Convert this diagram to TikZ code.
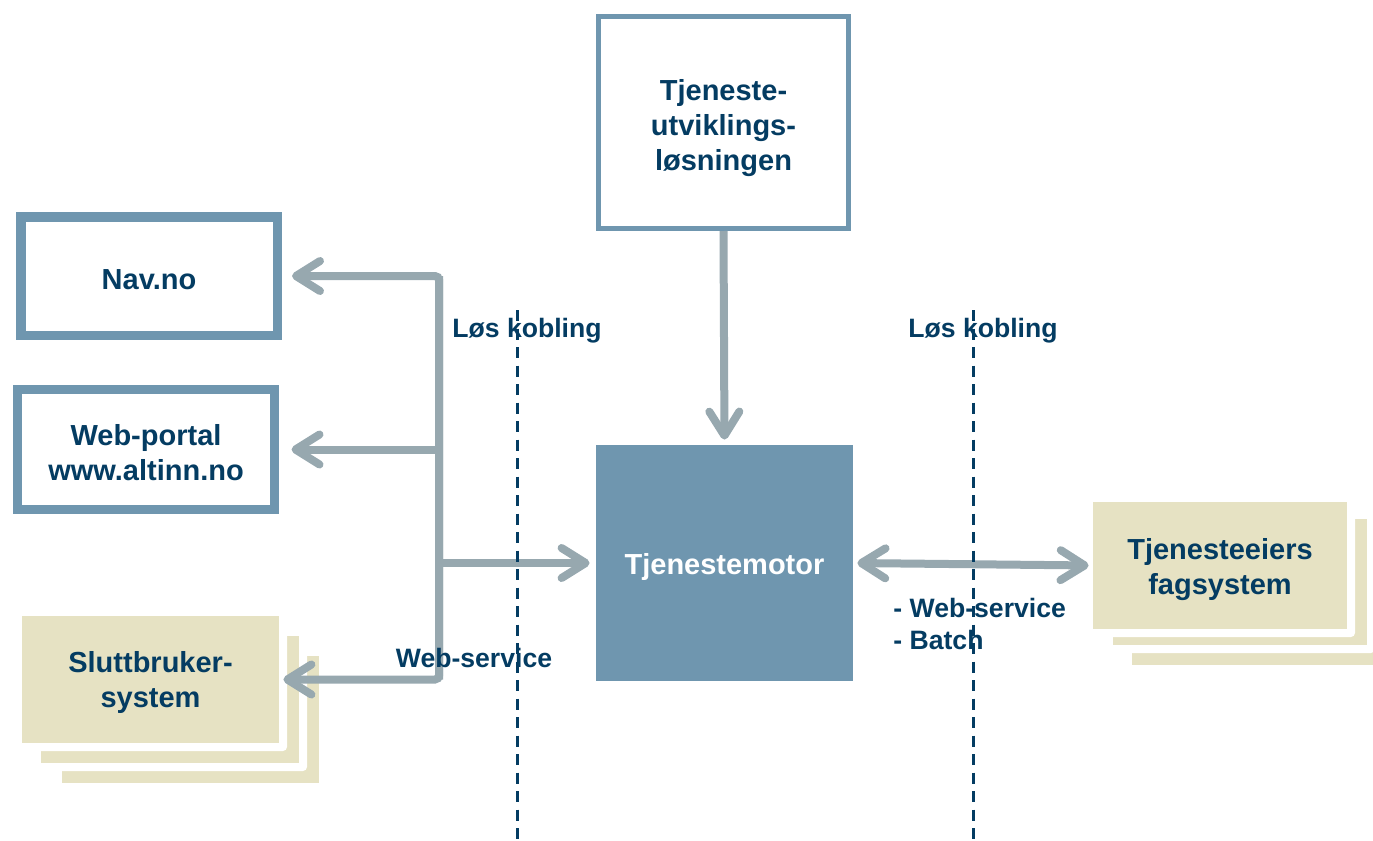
\documentclass[tikz,border=0pt]{standalone}
\usepackage{fontspec}
\setmainfont{Liberation Sans}
\usetikzlibrary{arrows.meta}
\definecolor{bord}{RGB}{111,150,175}
\definecolor{arrgray}{RGB}{151,168,175}
\definecolor{txt}{RGB}{4,60,98}
\definecolor{beige}{RGB}{230,226,195}
\newcommand{\dnstrut}{\rule{0pt}{14pt}}
\begin{document}
\begin{tikzpicture}[x=0.5pt,y=-0.5pt,
  boxtxt/.style={font=\fontsize{14.5pt}{17.5pt}\selectfont\bfseries, text=txt, align=center, inner sep=0pt},
  framebox/.style={boxtxt, draw=bord, fill=white, line width=4.75pt},
  beigebox/.style={boxtxt, fill=beige},
  lbl/.style={font=\fontsize{13.3pt}{16pt}\selectfont\bfseries, text=txt, inner sep=0pt},
  conn/.style={draw=arrgray, line width=4pt, rounded corners=2pt,
     -{Straight Barb[length=12pt,width=15pt,round]}},
  dconn/.style={draw=arrgray, line width=4pt,
     {Straight Barb[length=12pt,width=15pt,round]}-{Straight Barb[length=12pt,width=15pt,round]}},
  sep/.style={draw=txt, line width=1.5pt, dash pattern=on 5.5pt off 3.75pt}
]
\useasboundingbox (0,0) rectangle (1373,841);

% stacked shadows (left)
\fill[beige] (62,656) rectangle (319,783);
\fill[white, rounded corners=2pt] (33,628) rectangle (307,771);
\fill[beige] (41,636) rectangle (299,763);
\fill[white, rounded corners=2pt] (14,608) rectangle (287,751);
% stacked shadows (right)
\fill[beige] (1132,538) rectangle (1387,665);
\fill[white, rounded corners=2pt] (1105,511) rectangle (1375,653);
\fill[beige] (1113,519) rectangle (1367,645);
\fill[white, rounded corners=2pt] (1085,494) rectangle (1355,637);

% nodes
\node[framebox, minimum width=128.25pt, minimum height=59.25pt] (nav) at (149,276) {\dnstrut Nav.no};
\node[framebox, line width=4.5pt, minimum width=128.5pt, minimum height=60pt] (web) at (146,449.5) {\dnstrut Web-portal\\www.altinn.no};
\node[framebox, line width=2.5pt, minimum width=125pt, minimum height=106pt] (tjut) at (723.5,122.5) {\rule{0pt}{16pt}Tjeneste-\\utviklings-\\løsningen};
\node[boxtxt, fill=bord, text=white, minimum width=128.5pt, minimum height=118pt] (motor) at (724.5,563) {\rule{0pt}{15pt}Tjenestemotor};
\node[beigebox, minimum width=128.5pt, minimum height=63.5pt] (slutt) at (150.5,679.5) {\dnstrut Sluttbruker-\\system};
\node[beigebox, minimum width=127pt, minimum height=63.5pt] (eier) at (1220,565.5) {\rule{0pt}{15pt}Tjenesteeiers\\fagsystem};

% connectors
\coordinate (bus) at (439,0);
\draw[conn, shorten >=5pt] (slutt.east -| bus) -- (nav.east -| bus) -- (nav.east);
\draw[conn, shorten >=2pt] (nav.east -| bus) -- (slutt.east -| bus) -- (slutt.east);
\draw[conn, shorten >=6.25pt] (web.east -| bus) -- (web.east);
\draw[conn, shorten >=3pt] (motor.west -| bus) -- (motor.west);
\draw[conn, shorten >=2.5pt] (tjut.south) -- (motor.north);
\draw[dconn, shorten <=2pt, shorten >=2pt] (motor.east) -- (eier.west);

% labels
\node[lbl] (lk1) at (527,331) {Løs kobling};
\node[lbl] (lk2) at (983,331) {Løs kobling};
\node[lbl] (ws) at (474,658) {Web-service};
\node[lbl, align=left, anchor=west] (wsb) at (893,624) {- Web-service\\- Batch};

% separators
\coordinate (s1t) at (517,310);
\coordinate (s1b) at (517,841);
\coordinate (s2t) at (973,310);
\coordinate (s2b) at (973,841);
\draw[sep] (s1t) -- (s1b);
\draw[sep] (s2t) -- (s2b);
\end{tikzpicture}
\end{document}
